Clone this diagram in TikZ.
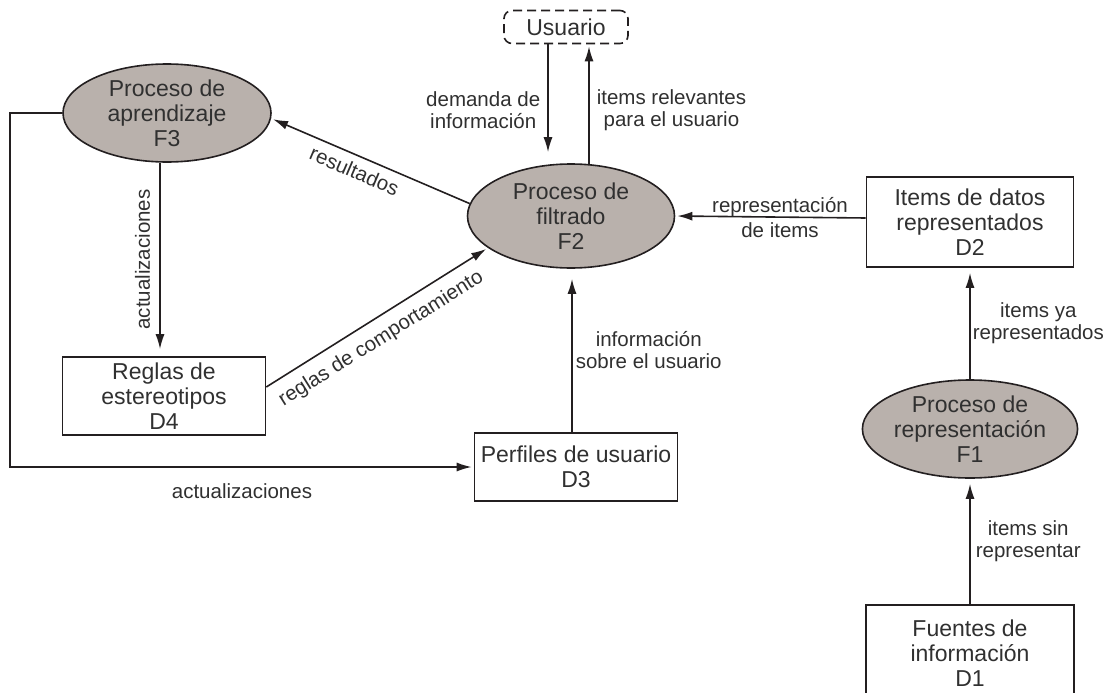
\documentclass[tikz,border=0pt]{standalone}
\usepackage{fontspec}
\setmainfont{Liberation Sans}
\usepackage{xcolor}
\usepackage{tikz}
\usetikzlibrary{arrows.meta,shapes,positioning}

\definecolor{procfill}{HTML}{B9B1AC}
\definecolor{ink}{HTML}{231F20}
\definecolor{txt}{HTML}{303030}

\begin{document}
\begin{tikzpicture}[x=1pt, y=-1pt, node distance=2.5cm,
  proc/.style={draw=ink, ellipse, fill=procfill, line width=1.6pt, minimum width=208pt, minimum height=98pt, inner sep=0pt, align=center, text=txt, font=\fontsize{23}{25}\selectfont},
  store/.style={draw=ink, rectangle, line width=1.6pt, minimum width=203pt, minimum height=78pt, inner sep=0pt, align=center, text=txt, font=\fontsize{23}{25}\selectfont},
  flow/.style={-{Latex[length=15pt,width=9pt]}, line width=1.6pt, draw=ink, shorten >=2pt},
  lbl/.style={text=txt, align=center, font=\fontsize{20.5}{22}\selectfont, inner sep=0pt}]
\useasboundingbox (0,0) rectangle (1111,693);

\node[proc] (learn) at (167,113) {Proceso de\\aprendizaje\\F3};
\node[proc, minimum width=207pt, minimum height=104pt] (filter) at (571,216) {Proceso de\\filtrado\\F2};
\node[store, dashed, dash pattern=on 9pt off 5pt, rounded corners=8pt, minimum width=124pt, minimum height=33pt] (user) at (566,27) {Usuario};
\node[store] (reglas) at (164,396) {Reglas de\\estereotipos\\D4};
\node[store, minimum height=68pt] (perfiles) at (576,467) {Perfiles de usuario\\D3};
\node[store, minimum width=207pt, minimum height=90pt] (items) at (970,222) {Items de datos\\representados\\D2};
\node[proc, below of=items, node distance=207pt] (repr) {Proceso de\\representación\\F1};
\node[store, minimum width=208pt, minimum height=96pt, below of=repr, node distance=224pt] (fuentes) {Fuentes de\\información\\D1};

\draw[flow] ([xshift=-23pt]filter.north |- user.south) -- node[lbl, pos=0.6, left=7pt] {demanda de\\información} ([xshift=-23pt, yshift=9pt]filter.north);
\draw[flow] ([xshift=18pt, yshift=-1pt]filter.north) -- node[lbl, pos=0.45, right=7pt] {items relevantes\\para el usuario} ([xshift=18pt]filter.north |- user.south);
\draw[flow] (filter.173) -- node[lbl, sloped, pos=0.55, below=7pt] {resultados} (learn.-3);
\draw[flow, shorten >=7pt] ([xshift=-7pt]learn.south) -- node[lbl, midway, rotate=90, anchor=south, outer ysep=10pt] {actualizaciones} ([xshift=-7pt]learn.south |- reglas.north);
\draw[flow] ([yshift=9pt]reglas.east) -- node[lbl, sloped, pos=0.47, below=10pt] {reglas de comportamiento} (filter.201);
\draw[flow] (learn.west) -- ++(-52,0) |- node[lbl, pos=0.75, below=16pt] {actualizaciones} (perfiles.west);
\draw[flow, shorten >=10pt] ([xshift=-4pt]perfiles.north) -- node[lbl, midway, right=3pt] {información\\sobre el usuario} ([xshift=-4pt]perfiles.north |- filter.south);
\draw[flow] ([yshift=4pt]items.west) -- node[lbl, pos=0.45] {representación\\[3pt]de items} (filter.east);
\draw[flow, shorten >=5pt] (repr.north) -- node[lbl, midway, right=2pt] {items ya\\representados} (items.south);
\draw[flow, shorten >=5pt] (fuentes.north) -- node[lbl, midway, right=5pt] {items sin\\representar} (repr.south);
\end{tikzpicture}
\end{document}
